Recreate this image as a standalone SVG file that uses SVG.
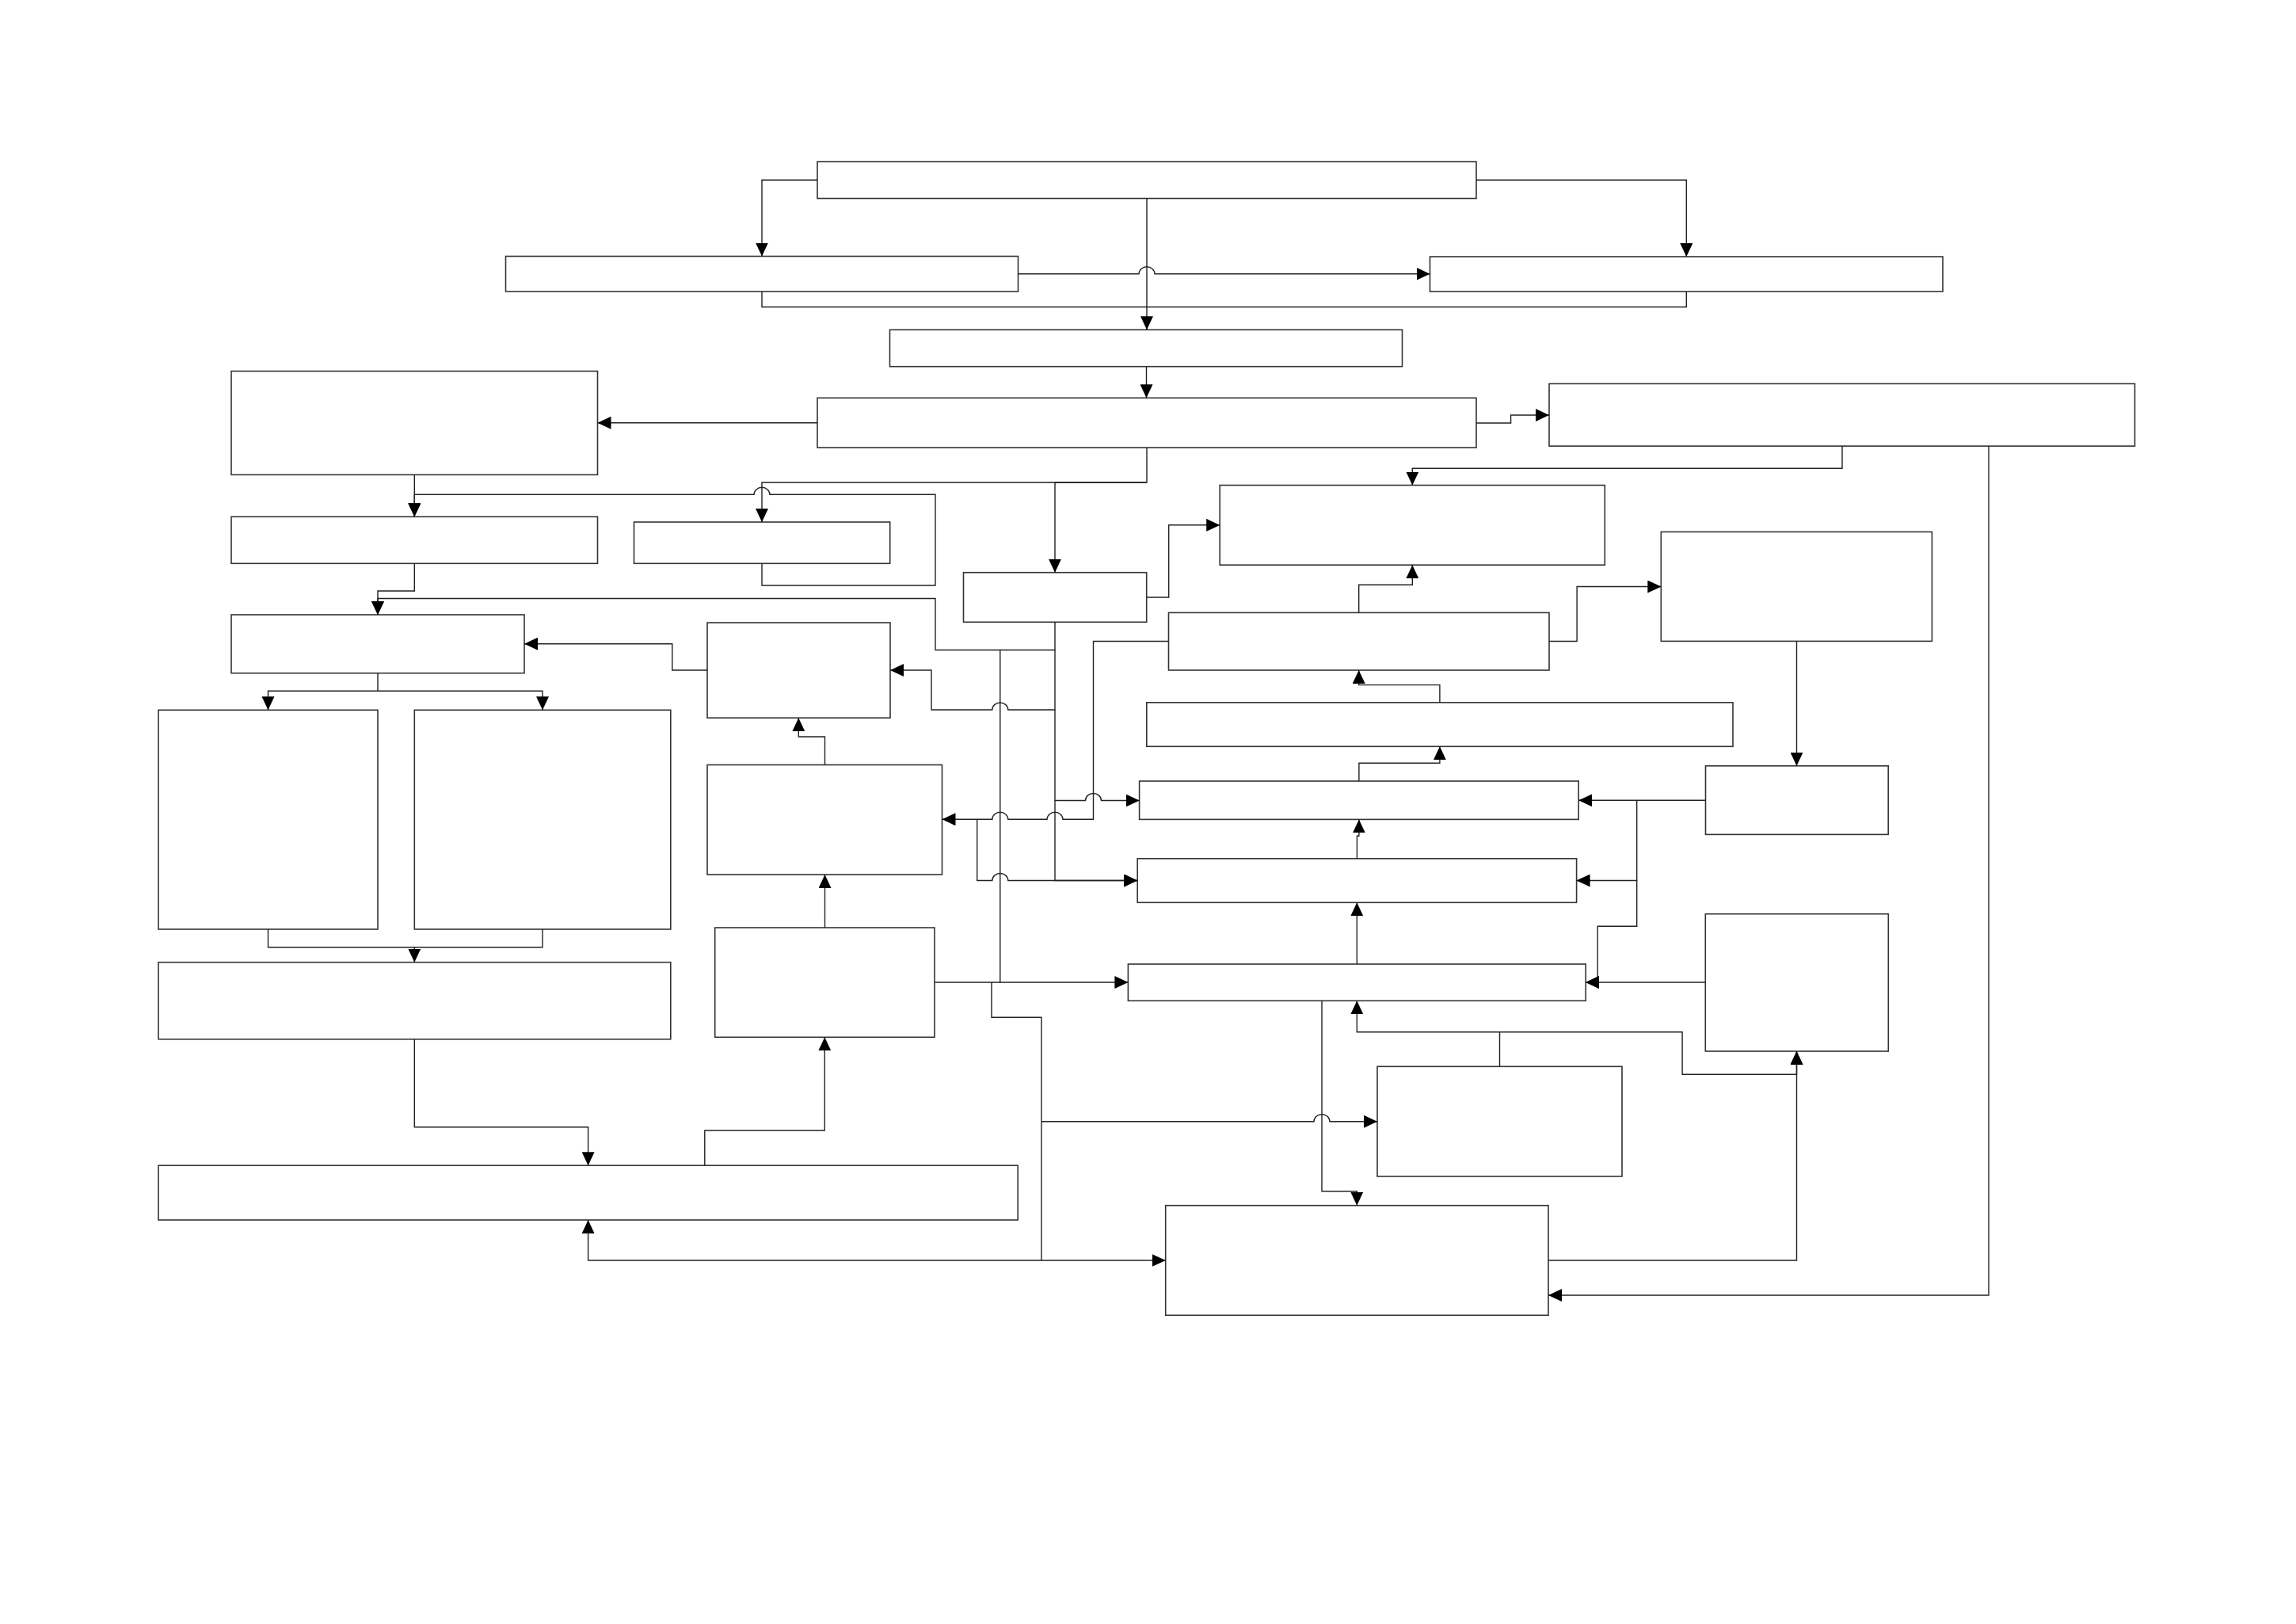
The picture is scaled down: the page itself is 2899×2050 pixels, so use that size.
<svg xmlns="http://www.w3.org/2000/svg" width="2899" height="2050" viewBox="0 0 2899 2050">
<style>
.n rect{fill:#fff;stroke:#333;stroke-width:1.6}
.c path{fill:none;stroke:#222;stroke-width:1.4}
.c path.a{marker-end:url(#ah)}
</style>
<defs>
<marker id="ah" viewBox="0 0 17 16" refX="17" refY="8" markerWidth="17" markerHeight="16" markerUnits="userSpaceOnUse" orient="auto">
<path d="M0,0 L17,8 L0,16 z" fill="#000"/>
</marker>
</defs>
<rect x="0" y="0" width="2899" height="2050" fill="#fff"/>
<g id="nodes" class="n">
<g id="nA"><rect x="1032" y="204" width="832" height="46.5"/></g>
<g id="nB"><rect x="638.5" y="323.5" width="647" height="44.5"/></g>
<g id="nC"><rect x="1805.5" y="324" width="647.5" height="44"/></g>
<g id="nD"><rect x="1123.5" y="416.3" width="647" height="46.4"/></g>
<g id="nE"><rect x="1032" y="502.3" width="832" height="62.7"/></g>
<g id="nF"><rect x="292" y="468.5" width="462.5" height="130.8"/></g>
<g id="nG"><rect x="1956" y="484.4" width="739.5" height="78.7"/></g>
<g id="nH"><rect x="292" y="652.3" width="462.5" height="59"/></g>
<g id="nI"><rect x="800.5" y="659" width="323.2" height="52.3"/></g>
<g id="nJ"><rect x="1540.2" y="612.5" width="486.1" height="100.7"/></g>
<g id="nK"><rect x="2097.3" y="671.4" width="342.1" height="138"/></g>
<g id="nL"><rect x="1216.5" y="722.7" width="231.2" height="62.6"/></g>
<g id="nM"><rect x="292" y="776" width="370" height="73.7"/></g>
<g id="nN"><rect x="893" y="786" width="231" height="120.2"/></g>
<g id="nO"><rect x="1475.5" y="773.4" width="480.5" height="72.6"/></g>
<g id="nP"><rect x="1447.8" y="886.8" width="740.2" height="55.5"/></g>
<g id="nQ"><rect x="200" y="896.3" width="277" height="276.7"/></g>
<g id="nR"><rect x="523.3" y="896.3" width="323.5" height="276.7"/></g>
<g id="nS"><rect x="893" y="965.5" width="296.5" height="138.5"/></g>
<g id="nT"><rect x="1438.6" y="986" width="554.6" height="48.4"/></g>
<g id="nU"><rect x="2153.5" y="966.8" width="230.7" height="86.6"/></g>
<g id="nV"><rect x="1436.2" y="1083.8" width="554.4" height="55.5"/></g>
<g id="nW"><rect x="200" y="1214.7" width="646.8" height="97.1"/></g>
<g id="nX"><rect x="902.7" y="1171" width="277.3" height="138.3"/></g>
<g id="nY"><rect x="1424.4" y="1217" width="577.8" height="46.3"/></g>
<g id="nZ"><rect x="2153.3" y="1153.7" width="231" height="173.3"/></g>
<g id="nAA"><rect x="1739" y="1346.3" width="309" height="138.7"/></g>
<g id="nAB"><rect x="200" y="1471.2" width="1085.2" height="68.8"/></g>
<g id="nAC"><rect x="1471.7" y="1521.7" width="483.3" height="138.6"/></g>
</g>
<g id="connectors" class="c">
<path class="a" d="M1032,227.3 H962 V323.5"/>
<path class="a" d="M1864,227.3 H2129.3 V324"/>
<path class="a" d="M1448,250.5 V416.3"/>
<path class="a" d="M1285.5,345.8 H1438 A10,9 0 0 1 1458,345.8 H1805.5"/>
<path d="M962,368 V387.5 H2129.3 V368"/>
<path class="a" d="M1447.5,462.7 V502.3"/>
<path class="a" d="M1032,533.7 H754.5"/>
<path class="a" d="M1864,534 H1907.6 V524 H1956"/>
<path class="a" d="M2326,563.1 V591.3 H1783.3 V612.5"/>
<path class="a" d="M2511,563.1 V1635 H1955"/>
<path class="a" d="M1448,565 V609 H962 V659"/>
<path class="a" d="M1448,609 H1332 V722.7"/>
<path class="a" d="M523.3,599.3 V652.3"/>
<path class="a" d="M962,711.3 V739 H1181 V624.3 H972 A10,9 0 0 0 952,624.3 H523.3 V652.3"/>
<path class="a" d="M523.3,711.3 V746 H477 V776"/>
<path class="a" d="M1332,785.3 V820.5 H1181 V755.5 H477 V776"/>
<path class="a" d="M1332,820.5 V896 H1272.8 A10,9 0 0 0 1252.8,896 H1176 V846 H1124"/>
<path class="a" d="M1332,896 V1010.5 H1370.5 A10,9 0 0 1 1390.5,1010.5 H1438.6"/>
<path class="a" d="M1332,1010.5 V1111.5 H1436.2"/>
<path class="a" d="M1475.5,809.5 H1380.5 V1034.3 H1342 A10,9 0 0 0 1322,1034.3 H1272.8 A10,9 0 0 0 1252.8,1034.3 H1189.5"/>
<path class="a" d="M1233.7,1034.3 V1111.5 H1252.8 A10,9 0 0 1 1272.8,1111.5 H1436.2"/>
<path class="a" d="M893,846 H848.8 V812.7 H662"/>
<path class="a" d="M1041.5,965.5 V930 H1008.3 V906.2"/>
<path class="a" d="M1041.5,1171 V1104"/>
<path class="a" d="M1262.8,820.5 V1240 H1424.4"/>
<path d="M1180,1240 H1262.8"/>
<path class="a" d="M1252,1240 V1284.3 H1315 V1591 H742.6 V1540"/>
<path class="a" d="M1315,1591 H1471.7"/>
<path class="a" d="M1315,1415.7 H1659 A10,9 0 0 1 1679,1415.7 H1739"/>
<path class="a" d="M1669,1263.3 V1503.7 H1713.3 V1521.7"/>
<path class="a" d="M1817.9,886.8 V864.6 H1715.7 V846"/>
<path class="a" d="M1715.9,986 V963.3 H1817.9 V942.3"/>
<path class="a" d="M1713.4,1083.8 V1055.2 H1715.9 V1034.4"/>
<path class="a" d="M1713.3,1217 V1139.3"/>
<path class="a" d="M1893.5,1346.3 V1302.7 H1713.3 V1263.3"/>
<path class="a" d="M1893.5,1302.7 H2124.1 V1356.3 H2268.5 V1327"/>
<path class="a" d="M1955,1591 H2268.5 V1327"/>
<path class="a" d="M1715.7,773.4 V738.3 H1783.3 V713.2"/>
<path class="a" d="M1956,809.5 H1991.1 V740.5 H2097.3"/>
<path class="a" d="M1447.7,754 H1475.7 V662.8 H1540.2"/>
<path class="a" d="M2268.5,809.4 V966.8"/>
<path class="a" d="M2153.5,1010.3 H1993.2"/>
<path class="a" d="M2066.7,1010.3 V1111.5 H1990.6"/>
<path class="a" d="M2066.7,1111.5 V1169.3 H2017.2 V1240 H2002.2"/>
<path class="a" d="M2153.3,1240 H2002.2"/>
<path class="a" d="M477,849.7 V872.3 H338.5 V896.3"/>
<path class="a" d="M477,872.3 H685 V896.3"/>
<path class="a" d="M338.5,1173 V1195.7 H523.3 V1214.7"/>
<path d="M685,1173 V1195.7 H523.3"/>
<path class="a" d="M523.3,1311.8 V1422.7 H742.6 V1471.2"/>
<path class="a" d="M889.8,1471.2 V1427 H1041.3 V1309.3"/>
</g>
</svg>
